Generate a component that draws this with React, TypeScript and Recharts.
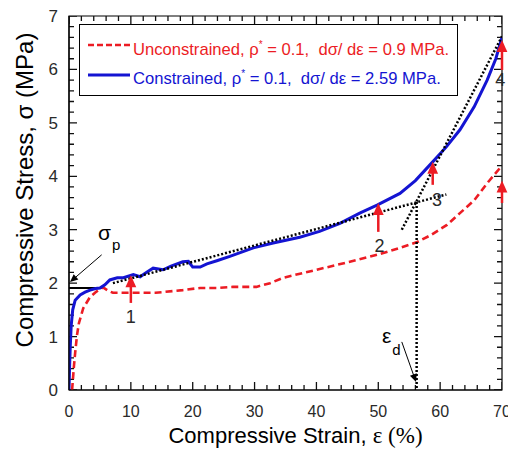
import { ComposedChart, Line, XAxis, YAxis, ReferenceLine, ReferenceDot, ReferenceArea, Legend } from 'recharts';

const FONT = '"Liberation Sans", Arial, sans-serif';
const RED = '#ec1c24';
const BLUE = '#1414d2';
const INK = '#2a2a2a';

// unconstrained foam (red dashed)
const unconStrain = [0.5, 0.8, 1.0, 1.3, 1.6, 2.3, 3.4, 4.3, 5.5, 6.3, 7.1, 10.4, 14, 18.4, 21.2, 23.9, 26.5, 30.3, 32.5, 34.6, 40, 45.4, 49.8, 53.5, 56.3, 58.5, 61.1, 63.2, 65.5, 67.6, 70];
const unconStress = [0, 0.45, 0.7, 1.03, 1.25, 1.53, 1.74, 1.83, 1.92, 1.86, 1.82, 1.82, 1.82, 1.87, 1.91, 1.91, 1.93, 1.93, 2.0, 2.1, 2.25, 2.4, 2.53, 2.66, 2.77, 2.9, 3.09, 3.31, 3.55, 3.87, 4.2];

// constrained foam (blue solid)
const conStrain = [0, 0.1, 0.2, 0.35, 0.6, 1.0, 1.8, 2.6, 3.4, 4.3, 5, 5.8, 6.6, 7.8, 8.8, 10.4, 11.5, 12.5, 13.6, 15.2, 16.5, 18.4, 19.3, 20, 21.2, 22.3, 23.9, 26, 29.8, 33, 37.3, 40.5, 43.8, 47, 49.8, 53.5, 56, 58.8, 61, 63.2, 65.5, 67.6, 69, 70];
const conStress = [0, 0.45, 0.8, 1.2, 1.5, 1.68, 1.78, 1.83, 1.87, 1.9, 1.91, 1.97, 2.06, 2.1, 2.1, 2.16, 2.12, 2.2, 2.28, 2.25, 2.32, 2.4, 2.41, 2.3, 2.3, 2.36, 2.42, 2.5, 2.66, 2.75, 2.86, 2.97, 3.12, 3.31, 3.46, 3.68, 3.92, 4.27, 4.55, 4.87, 5.3, 5.8, 6.2, 6.6];

// construction lines
const plateauFitStrain = [7.1, 61];
const plateauFitStress = [2.0, 3.66];
const densFitStrain = [53.8, 70];
const densFitStress = [3.0, 6.62];
const epsDStrain = [56.2, 56.2];
const epsDStress = [3.52, 0];
const sigmaPStrain = [0, 5.5];
const sigmaPStress = [1.91, 1.91];

// red arrows marking points 1-4
const arrowStrain = [10, 50, 58.8, 70, 70];
const arrowBase = [1.63, 2.96, 3.84, 5.99, 3.5];
const arrowTip = [2.15, 3.5, 4.27, 6.55, 3.92];

const markLabels = ['1', '2', '3', '4'];
const markStrain = [10, 50.2, 59.5, 69.7];
const markStress = [1.37, 2.71, 3.57, 5.8];

const xMajor = [0, 10, 20, 30, 40, 50, 60, 70];
const xMinor = [2, 4, 6, 8, 12, 14, 16, 18, 22, 24, 26, 28, 32, 34, 36, 38, 42, 44, 46, 48, 52, 54, 56, 58, 62, 64, 66, 68];
const yMajor = [0, 1, 2, 3, 4, 5, 6, 7];
const yMinor = [0.2, 0.4, 0.6, 0.8, 1.2, 1.4, 1.6, 1.8, 2.2, 2.4, 2.6, 2.8, 3.2, 3.4, 3.6, 3.8, 4.2, 4.4, 4.6, 4.8, 5.2, 5.4, 5.6, 5.8, 6.2, 6.4, 6.6, 6.8];

const pts = (xs: number[], ys: number[]) => xs.map((x, i) => ({ x, y: ys[i] }));

// inward tick marks as broken polylines (null y splits the line)
// lengths in data units: ~8px major, ~5px minor
const X_UNIT_PX = 433 / 70;
const Y_UNIT_PX = 374 / 7;
function xTickRows(fromY: number, dir: number) {
  const rows: { x: number; y: number | null }[] = [];
  xMajor.forEach((v) => rows.push({ x: v, y: fromY }, { x: v, y: fromY + (dir * 8) / Y_UNIT_PX }, { x: v, y: null }));
  xMinor.forEach((v) => rows.push({ x: v, y: fromY }, { x: v, y: fromY + (dir * 5) / Y_UNIT_PX }, { x: v, y: null }));
  return rows;
}
function yTickRows(fromX: number, dir: number) {
  const rows: { x: number; y: number | null }[] = [];
  yMajor.forEach((v) => rows.push({ x: fromX, y: v }, { x: fromX + (dir * 8) / X_UNIT_PX, y: v }, { x: fromX, y: null }));
  yMinor.forEach((v) => rows.push({ x: fromX, y: v }, { x: fromX + (dir * 5) / X_UNIT_PX, y: v }, { x: fromX, y: null }));
  return rows;
}
const tickSets = [xTickRows(0, 1), xTickRows(7, -1), yTickRows(0, 1), yTickRows(70, -1)];

function ArrowPath({ x1, y1, x2, y2, color, width, head }: any) {
  const dx = x2 - x1;
  const dy = y2 - y1;
  const len = Math.sqrt(dx * dx + dy * dy) || 1;
  const ux = dx / len;
  const uy = dy / len;
  const nx = -uy;
  const ny = ux;
  const bx = x2 - ux * head;
  const by = y2 - uy * head;
  const hw = head * 0.45;
  return (
    <g>
      <line x1={x1} y1={y1} x2={x2 - ux * head * 0.6} y2={y2 - uy * head * 0.6} stroke={color} strokeWidth={width} />
      <polygon points={`${x2},${y2} ${bx + nx * hw},${by + ny * hw} ${bx - nx * hw},${by - ny * hw}`} fill={color} />
    </g>
  );
}

function LegendBox() {
  const rows = [
    { name: 'Unconstrained', slope: '0.9', color: RED, dash: '6 3', top: 16, lineY: 20 },
    { name: 'Constrained', slope: '2.59', color: BLUE, dash: undefined, top: 45, lineY: 50 },
  ];
  return (
    <div style={{ position: 'relative', width: 379, height: 72, boxSizing: 'border-box', border: '1px solid #000', background: '#fff', fontFamily: FONT }}>
      <svg width={60} height={70} style={{ position: 'absolute', left: 0, top: 0 }}>
        {rows.map((r) => (
          <line key={r.name} x1={8} x2={50} y1={r.lineY} y2={r.lineY} stroke={r.color} strokeWidth={r.dash ? 2.5 : 3} strokeDasharray={r.dash} />
        ))}
      </svg>
      {rows.map((r) => (
        <div key={r.name} style={{ position: 'absolute', left: 53, top: r.top, color: r.color, fontSize: 16.6, whiteSpace: 'pre', lineHeight: '18px' }}>
          {r.name}, ρ<span style={{ fontSize: 10, position: 'relative', top: -7 }}>*</span>{` = 0.1,  dσ/ dε = ${r.slope} MPa.`}
        </div>
      ))}
    </div>
  );
}

export default function App() {
  return (
    <div style={{ position: 'absolute', left: 0, top: 0, width: 508, height: 450, background: '#fff' }}>
      <ComposedChart width={508} height={450} margin={{ top: 16, right: 6, left: 0, bottom: 0 }}>
        <XAxis
          type="number"
          dataKey="x"
          domain={[0, 70]}
          ticks={xMajor}
          interval={0}
          allowDataOverflow
          height={60}
          tickLine={false}
          tickSize={6}
          tickMargin={10}
          axisLine={{ stroke: '#000', strokeWidth: 1.2 }}
          tick={{ fontSize: 16, fill: INK, fontFamily: FONT }}
          label={{
            content: (p: any) => {
              const vb = p.viewBox || { x: 69, y: 390, width: 433 };
              return (
                <text x={vb.x + vb.width / 2 + 10} y={vb.y + 53} textAnchor="middle" fill="#000" fontSize={22} fontFamily={FONT}>
                  Compressive Strain,{' '}
                  <tspan fontFamily='"Liberation Serif", "Times New Roman", serif' fontSize={23}>ε (%)</tspan>
                </text>
              );
            },
          }}
        />
        <YAxis
          type="number"
          domain={[0, 7]}
          ticks={yMajor}
          interval={0}
          allowDataOverflow
          width={69}
          tickLine={false}
          tickSize={6}
          tickMargin={5}
          axisLine={{ stroke: '#000', strokeWidth: 1.2 }}
          tick={{ fontSize: 17, fill: INK, fontFamily: FONT }}
          label={{
            content: (p: any) => {
              const vb = p.viewBox || { x: 0, y: 16, height: 374 };
              const cx = 33;
              const cy = vb.y + vb.height / 2 - 13;
              return (
                <text x={cx} y={cy} transform={`rotate(-90 ${cx} ${cy})`} textAnchor="middle" fill="#000" fontSize={24} fontFamily={FONT}>
                  Compressive Stress, σ (MPa)
                </text>
              );
            },
          }}
        />

        <ReferenceArea x1={0} x2={70} y1={0} y2={7} fill="none" stroke="#000" strokeWidth={1.2} />

        <Legend
          layout="vertical"
          align="center"
          verticalAlign="middle"
          wrapperStyle={{ left: 79, top: 24, width: 379, height: 72 }}
          content={() => <LegendBox />}
        />

        {tickSets.map((rows, i) => (
          <Line key={`ticks${i}`} data={rows} dataKey="y" stroke="#111" strokeWidth={1.3} dot={false} activeDot={false} connectNulls={false} isAnimationActive={false} />
        ))}

        <Line data={pts(sigmaPStrain, sigmaPStress)} dataKey="y" stroke="#000" strokeWidth={2} dot={false} isAnimationActive={false} />
        <Line data={pts(unconStrain, unconStress)} dataKey="y" stroke={RED} strokeWidth={2.6} strokeDasharray="7 4" dot={false} isAnimationActive={false} />
        <Line data={pts(conStrain, conStress)} dataKey="y" stroke={BLUE} strokeWidth={3} dot={false} isAnimationActive={false} />
        <Line data={pts(plateauFitStrain, plateauFitStress)} dataKey="y" stroke="#000" strokeWidth={2.5} strokeDasharray="2 2" dot={false} isAnimationActive={false} />
        <Line data={pts(densFitStrain, densFitStress)} dataKey="y" stroke="#000" strokeWidth={2.5} strokeDasharray="2 2" dot={false} isAnimationActive={false} />
        <Line data={pts(epsDStrain, epsDStress)} dataKey="y" stroke="#000" strokeWidth={2.5} strokeDasharray="2 2" dot={false} isAnimationActive={false} />

        {arrowStrain.map((x, i) => (
          <ReferenceLine
            key={`arr${i}`}
            segment={[{ x, y: arrowBase[i] }, { x, y: arrowTip[i] }]}
            shape={(p: any) => <ArrowPath {...p} color={RED} width={2.5} head={12} />}
          />
        ))}
        <ReferenceLine
          segment={[{ x: 5.28, y: 2.53 }, { x: 0.16, y: 2.02 }]}
          shape={(p: any) => <ArrowPath {...p} color="#000" width={1} head={8} />}
        />
        <ReferenceLine
          segment={[{ x: 53.8, y: 0.9 }, { x: 56.1, y: 0.15 }]}
          shape={(p: any) => <ArrowPath {...p} color="#000" width={1} head={8} />}
        />

        {markLabels.map((t, i) => (
          <ReferenceDot
            key={`lab${i}`}
            x={markStrain[i]}
            y={markStress[i]}
            r={0}
            shape={(p: any) => (
              <text x={p.cx} y={p.cy} dy="0.35em" textAnchor="middle" fill={INK} fontSize={18} fontFamily={FONT}>{t}</text>
            )}
          />
        ))}
        <ReferenceDot
          x={4.7}
          y={2.81}
          r={0}
          shape={(p: any) => (
            <text x={p.cx} y={p.cy} fill="#000" fontSize={21} fontFamily={FONT}>
              σ<tspan fontSize={15} dx={1} dy={10}>p</tspan>
            </text>
          )}
        />
        <ReferenceDot
          x={50.6}
          y={0.88}
          r={0}
          shape={(p: any) => (
            <text x={p.cx} y={p.cy} fill="#000" fontSize={21} fontFamily={FONT}>
              ε<tspan fontSize={15} dx={1} dy={12}>d</tspan>
            </text>
          )}
        />
      </ComposedChart>
    </div>
  );
}
